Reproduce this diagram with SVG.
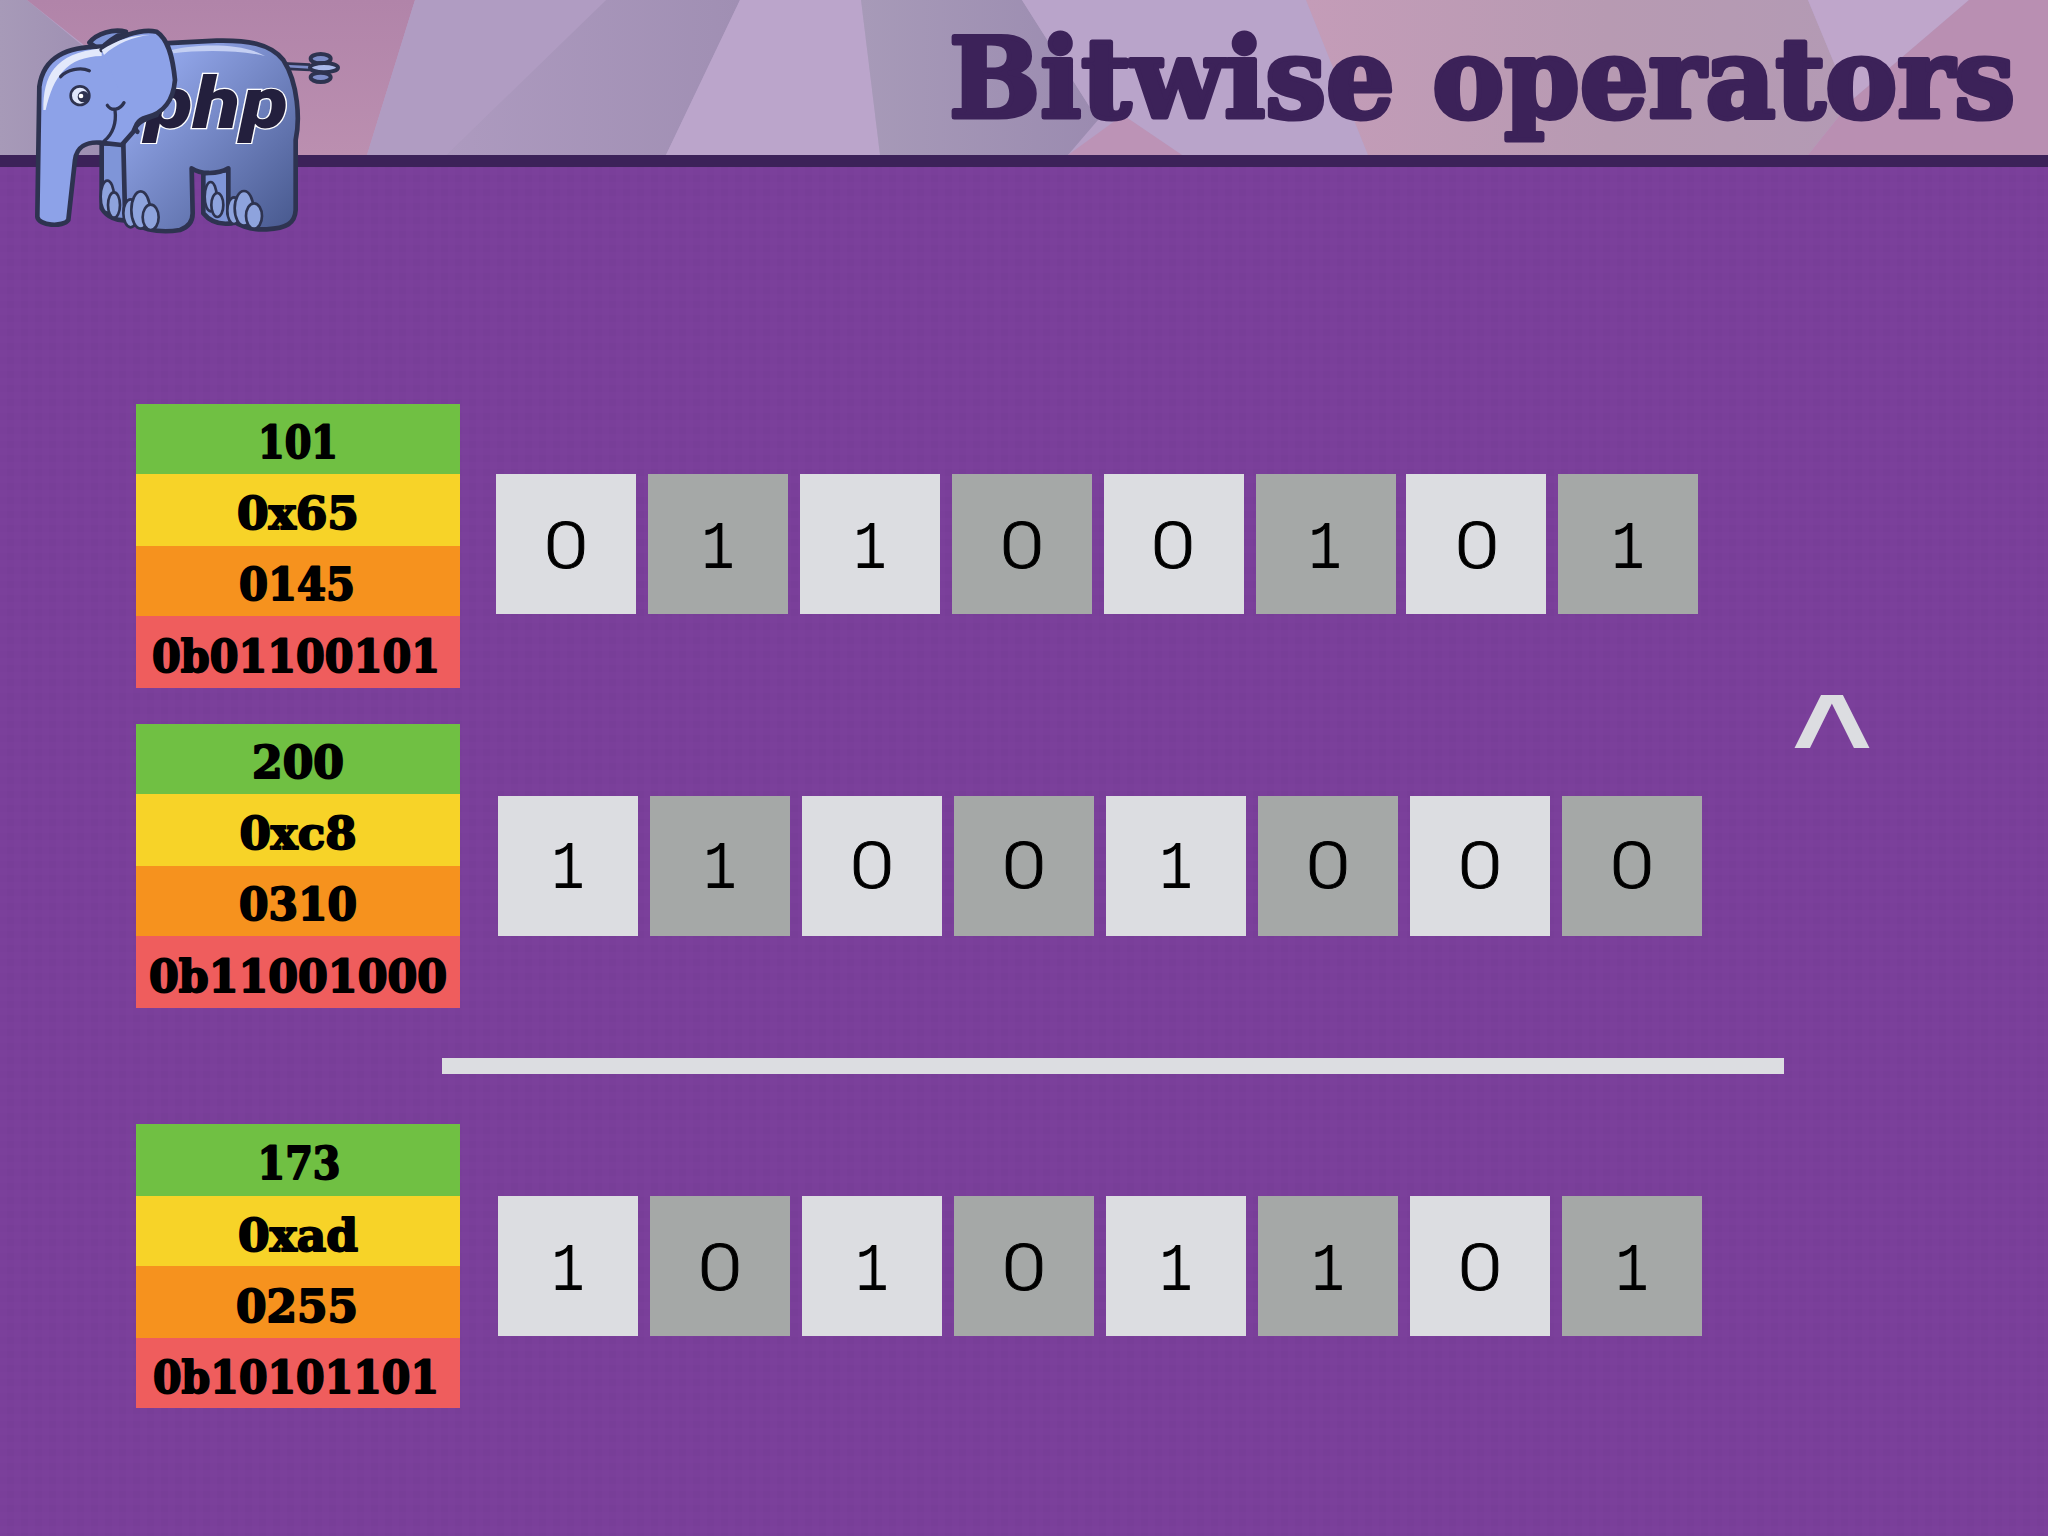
<svg xmlns="http://www.w3.org/2000/svg" width="2048" height="1536" viewBox="0 0 2048 1536">
<style>
.g{fill:#70c043}.y{fill:#f7d328}.o{fill:#f6921e}.r{fill:#ef5d5d}
.l{fill:#dcdde1}.d{fill:#a5a8a7}
.t{font-family:"DejaVu Serif Condensed","DejaVu Serif",serif;font-weight:700;font-size:45px;fill:#000;stroke:#000;stroke-width:1.8px;stroke-linejoin:round;text-anchor:middle}
.z{font-family:Roboto,sans-serif;font-weight:300;font-size:64px;fill:#000;stroke:#000;stroke-width:.8px;text-anchor:middle}
.u{font-family:"Liberation Mono",monospace;font-size:68px;fill:#000;text-anchor:middle}
.e{stroke:#2e3350;stroke-width:14;stroke-linejoin:round;stroke-linecap:round}
.ln{fill:none;stroke:#2e3350;stroke-width:10;stroke-linecap:round;stroke-linejoin:round}
.toe{fill:#8ea3dd;stroke:#2e3350;stroke-width:8}
.tf{fill:#7d8cc8;stroke:#2e3350;stroke-width:12}
</style>
<defs>
<linearGradient id="bp" x1="0" y1="0" x2="1" y2="1"><stop offset="0.15" stop-color="#94a8ec"/><stop offset="1" stop-color="#46578c"/></linearGradient>
<linearGradient id="hp" x1="0" y1="0" x2="0" y2="1"><stop offset="0" stop-color="#b184a9"/><stop offset="1" stop-color="#bb8fb0"/></linearGradient>
<linearGradient id="gl" x1="0" y1="0" x2="1" y2="0"><stop offset="0" stop-color="#a79ab8"/><stop offset="1" stop-color="#9b8bb0"/></linearGradient>
<linearGradient id="pk" x1="0" y1="0" x2="1" y2="0"><stop offset="0" stop-color="#c49cb8"/><stop offset="0.55" stop-color="#b79ab2"/><stop offset="1" stop-color="#b39ab4"/></linearGradient>
<linearGradient id="dk" x1="0" y1="0" x2="1" y2="0"><stop offset="0" stop-color="#ad9abf"/><stop offset="1" stop-color="#a08fb3"/></linearGradient>
<pattern id="tex" width="14" height="14" patternUnits="userSpaceOnUse"><rect width="7" height="7" fill="#8a4aa8" opacity=".09"/><rect x="7" y="7" width="7" height="7" fill="#5f3a82" opacity=".09"/></pattern>
</defs>
<rect id="body-bg" width="2048" height="1536" fill="#7a3f9a"/>
<rect y="167" width="2048" height="1369" fill="url(#tex)"/>
<g id="header">
<rect width="2048" height="155" fill="#b5a0c6"/>
<polygon points="0,0 27,0 100,60 130,155 0,155" fill="url(#gl)"/>
<polygon points="27,0 415,0 367,155 130,155 90,50" fill="url(#hp)"/>
<polygon points="415,0 606,0 446,155 367,155" fill="#b09cc2"/>
<polygon points="606,0 740,0 666,155 446,155" fill="url(#dk)"/>
<polygon points="740,0 861,0 880,155 666,155" fill="#bba5cb"/>
<polygon points="861,0 1022,0 1098,120 1068,155 880,155" fill="url(#gl)"/>
<polygon points="1022,0 1306,0 1368,155 1182,155 1123,115 1098,120" fill="#b9a4ca"/>
<polygon points="1123,115 1182,155 1068,155" fill="#bc93b6"/>
<polygon points="1306,0 1808,0 1837,70 1852,100 1808,155 1368,155" fill="url(#pk)"/>
<polygon points="1808,0 1969,0 1852,100 1837,70" fill="#bfa6cb"/>
<polygon points="1969,0 2048,0 2048,155 1808,155 1852,100" fill="#b98fb2"/>
<rect y="155" width="2048" height="12" fill="#3c2259"/>
<text x="1482" y="117" font-family="'DejaVu Serif',serif" font-weight="700" font-size="110" fill="#3c2259" stroke="#3c2259" stroke-width="5" stroke-linejoin="round" text-anchor="middle" textLength="1066" lengthAdjust="spacingAndGlyphs">Bitwise operators</text>
</g>
<g id="elephant" transform="scale(0.33333)">
<path d="M850,198 L930,202" stroke="#2e3350" stroke-width="24" fill="none"/>
<path d="M855,198 L930,202" stroke="#7d8cc8" stroke-width="8" fill="none"/>
<ellipse class="tf" cx="962" cy="176" rx="30" ry="14"/>
<ellipse class="tf" cx="962" cy="232" rx="30" ry="14"/>
<ellipse class="tf" cx="972" cy="203" rx="42" ry="14" style="fill:#a9b8ea"/>
<path class="e" fill="#7f95d8" d="M305,430 L305,625 C320,650 350,665 385,660 L372,430 Z"/>
<path class="e" fill="#7f95d8" d="M610,520 L610,640 C630,665 660,675 695,670 L685,510 Z"/>
<g class="toe"><ellipse cx="322" cy="590" rx="20" ry="48"/><ellipse cx="342" cy="615" rx="18" ry="38"/><ellipse cx="632" cy="590" rx="18" ry="44"/><ellipse cx="652" cy="615" rx="18" ry="36"/></g>
<path class="e" fill="url(#bp)" d="M370,430 L375,640 C400,690 480,700 540,690 C570,680 578,660 578,640 L575,505 C600,522 650,525 685,505 L685,640 C700,680 760,690 800,688 C860,685 885,670 887,630 L887,420 C900,360 895,250 850,180 C810,130 740,120 650,122 L490,130 Z"/>
<path d="M515,150 C600,130 730,130 795,168 C720,150 600,150 520,160 Z" fill="#c4cff3"/>
<g class="toe"><ellipse cx="392" cy="640" rx="22" ry="42"/><ellipse cx="422" cy="630" rx="28" ry="56"/><ellipse cx="452" cy="652" rx="24" ry="38"/><ellipse cx="702" cy="632" rx="20" ry="40"/><ellipse cx="732" cy="625" rx="28" ry="52"/><ellipse cx="762" cy="648" rx="24" ry="38"/></g>
<text x="436" y="385" font-family="Roboto,sans-serif" font-weight="900" font-style="italic" font-size="216" fill="#231f3d" stroke="#fff" stroke-width="7" paint-order="stroke" textLength="428" lengthAdjust="spacingAndGlyphs">php</text>
<path class="e" fill="#7f95d8" d="M268,128 C290,100 340,85 378,95 C345,110 320,125 300,150 Z"/>
<path class="e" fill="#8da2e8" d="M305,140 C200,140 130,170 118,260 L112,650 C115,678 190,682 205,660 L225,480 C230,440 260,425 300,428 L365,435 L400,395 C410,365 440,355 470,345 L450,200 Z"/>
<path d="M130,330 C130,230 160,160 305,145 L305,168 C200,170 160,230 137,330 Z" fill="#e3e9fb"/>
<path class="e" fill="#8da2e8" d="M305,150 C350,110 420,85 470,95 C510,120 520,190 525,240 C520,300 490,340 440,352 C410,360 400,385 412,395"/>
<path d="M305,150 C350,120 400,105 450,105 C400,110 350,130 312,165 Z" fill="#dfe6fb"/>
<path class="ln" d="M182,230 C200,210 240,200 268,212"/>
<circle cx="240" cy="287" r="28" fill="#dfe6fb" stroke="#2e3350" stroke-width="8"/>
<circle cx="250" cy="290" r="17" fill="#2e3350"/>
<circle cx="243" cy="288" r="7" fill="#fff"/>
<path class="ln" d="M322,316 C335,335 360,330 372,308 M345,330 C350,370 340,400 312,424"/>
</g>
<g id="value-101">
<rect class="g" x="136" y="404" width="324" height="70"/><rect class="y" x="136" y="474" width="324" height="72"/><rect class="o" x="136" y="546" width="324" height="70"/><rect class="r" x="136" y="616" width="324" height="72"/>
<text class="t" x="298" y="458" textLength="80" lengthAdjust="spacingAndGlyphs">101</text>
<text class="t" x="298" y="529" textLength="122" lengthAdjust="spacingAndGlyphs">0x65</text>
<text class="t" x="297" y="600" textLength="116" lengthAdjust="spacingAndGlyphs">0145</text>
<text class="t" x="296" y="672" textLength="288" lengthAdjust="spacingAndGlyphs">0b01100101</text>
</g>
<g id="value-200">
<rect class="g" x="136" y="724" width="324" height="70"/><rect class="y" x="136" y="794" width="324" height="72"/><rect class="o" x="136" y="866" width="324" height="70"/><rect class="r" x="136" y="936" width="324" height="72"/>
<text class="t" x="298" y="778" textLength="92" lengthAdjust="spacingAndGlyphs">200</text>
<text class="t" x="298" y="849" textLength="117" lengthAdjust="spacingAndGlyphs">0xc8</text>
<text class="t" x="298" y="920" textLength="118" lengthAdjust="spacingAndGlyphs">0310</text>
<text class="t" x="298" y="992" textLength="298" lengthAdjust="spacingAndGlyphs">0b11001000</text>
</g>
<g id="value-173">
<rect class="g" x="136" y="1124" width="324" height="72"/><rect class="y" x="136" y="1196" width="324" height="70"/><rect class="o" x="136" y="1266" width="324" height="72"/><rect class="r" x="136" y="1338" width="324" height="70"/>
<text class="t" x="299" y="1179" textLength="83" lengthAdjust="spacingAndGlyphs">173</text>
<text class="t" x="298" y="1251" textLength="120" lengthAdjust="spacingAndGlyphs">0xad</text>
<text class="t" x="297" y="1322" textLength="122" lengthAdjust="spacingAndGlyphs">0255</text>
<text class="t" x="296" y="1393" textLength="286" lengthAdjust="spacingAndGlyphs">0b10101101</text>
</g>
<g id="bits-101">
<rect class="l" x="496" y="474" width="140" height="140"/><text class="z" x="566" y="568" textLength="45" lengthAdjust="spacingAndGlyphs">0</text>
<rect class="d" x="648" y="474" width="140" height="140"/><text class="u" x="718" y="568" textLength="33" lengthAdjust="spacingAndGlyphs">1</text>
<rect class="l" x="800" y="474" width="140" height="140"/><text class="u" x="870" y="568" textLength="33" lengthAdjust="spacingAndGlyphs">1</text>
<rect class="d" x="952" y="474" width="140" height="140"/><text class="z" x="1022" y="568" textLength="45" lengthAdjust="spacingAndGlyphs">0</text>
<rect class="l" x="1104" y="474" width="140" height="140"/><text class="z" x="1173" y="568" textLength="45" lengthAdjust="spacingAndGlyphs">0</text>
<rect class="d" x="1256" y="474" width="140" height="140"/><text class="u" x="1325" y="568" textLength="33" lengthAdjust="spacingAndGlyphs">1</text>
<rect class="l" x="1406" y="474" width="140" height="140"/><text class="z" x="1477" y="568" textLength="45" lengthAdjust="spacingAndGlyphs">0</text>
<rect class="d" x="1558" y="474" width="140" height="140"/><text class="u" x="1628" y="568" textLength="33" lengthAdjust="spacingAndGlyphs">1</text>
</g>
<g id="bits-200">
<rect class="l" x="498" y="796" width="140" height="140"/><text class="u" x="568" y="888" textLength="33" lengthAdjust="spacingAndGlyphs">1</text>
<rect class="d" x="650" y="796" width="140" height="140"/><text class="u" x="720" y="888" textLength="33" lengthAdjust="spacingAndGlyphs">1</text>
<rect class="l" x="802" y="796" width="140" height="140"/><text class="z" x="872" y="888" textLength="45" lengthAdjust="spacingAndGlyphs">0</text>
<rect class="d" x="954" y="796" width="140" height="140"/><text class="z" x="1024" y="888" textLength="45" lengthAdjust="spacingAndGlyphs">0</text>
<rect class="l" x="1106" y="796" width="140" height="140"/><text class="u" x="1176" y="888" textLength="33" lengthAdjust="spacingAndGlyphs">1</text>
<rect class="d" x="1258" y="796" width="140" height="140"/><text class="z" x="1328" y="888" textLength="45" lengthAdjust="spacingAndGlyphs">0</text>
<rect class="l" x="1410" y="796" width="140" height="140"/><text class="z" x="1480" y="888" textLength="45" lengthAdjust="spacingAndGlyphs">0</text>
<rect class="d" x="1562" y="796" width="140" height="140"/><text class="z" x="1632" y="888" textLength="45" lengthAdjust="spacingAndGlyphs">0</text>
</g>
<rect id="rule" class="l" x="442" y="1058" width="1342" height="16"/>
<text id="operator" x="1832" y="778" font-family="'Liberation Sans',sans-serif" font-weight="700" font-size="120" fill="#dcdde1" text-anchor="middle" textLength="81" lengthAdjust="spacingAndGlyphs">^</text>
<g id="bits-173">
<rect class="l" x="498" y="1196" width="140" height="140"/><text class="u" x="568" y="1290" textLength="33" lengthAdjust="spacingAndGlyphs">1</text>
<rect class="d" x="650" y="1196" width="140" height="140"/><text class="z" x="720" y="1290" textLength="45" lengthAdjust="spacingAndGlyphs">0</text>
<rect class="l" x="802" y="1196" width="140" height="140"/><text class="u" x="872" y="1290" textLength="33" lengthAdjust="spacingAndGlyphs">1</text>
<rect class="d" x="954" y="1196" width="140" height="140"/><text class="z" x="1024" y="1290" textLength="45" lengthAdjust="spacingAndGlyphs">0</text>
<rect class="l" x="1106" y="1196" width="140" height="140"/><text class="u" x="1176" y="1290" textLength="33" lengthAdjust="spacingAndGlyphs">1</text>
<rect class="d" x="1258" y="1196" width="140" height="140"/><text class="u" x="1328" y="1290" textLength="33" lengthAdjust="spacingAndGlyphs">1</text>
<rect class="l" x="1410" y="1196" width="140" height="140"/><text class="z" x="1480" y="1290" textLength="45" lengthAdjust="spacingAndGlyphs">0</text>
<rect class="d" x="1562" y="1196" width="140" height="140"/><text class="u" x="1632" y="1290" textLength="33" lengthAdjust="spacingAndGlyphs">1</text>
</g>
</svg>
